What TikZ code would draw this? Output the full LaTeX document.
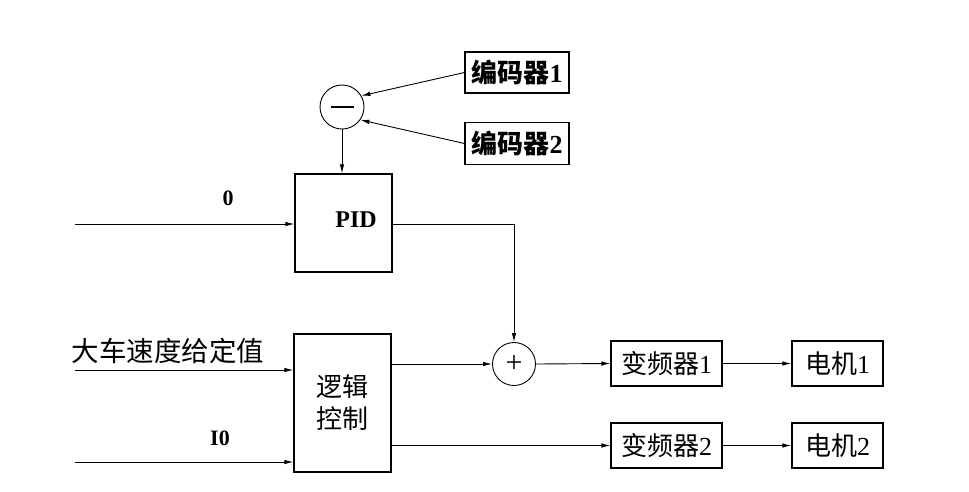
\documentclass[tikz,border=0pt]{standalone}
\usepackage{fontspec}
\setmainfont{Liberation Serif}
\newfontfamily\cjk{Noto Sans CJK SC}
\usetikzlibrary{arrows.meta}
\tikzset{
  blk/.style={draw, line width=1.2pt, inner sep=0pt, font=\fontsize{26}{28}\selectfont},
  bblk/.style={blk, font=\fontsize{26}{28}\selectfont\bfseries},
  sumc/.style={draw, circle, line width=0.9pt, inner sep=0pt, minimum size=44pt},
  arr/.style={line width=0.9pt, -{Latex[length=9pt,width=4.5pt]}},
  lbl/.style={inner sep=0pt, font=\fontsize{24}{26}\selectfont\bfseries}
}
\begin{document}
\begin{tikzpicture}[x=1pt,y=-1pt]
\useasboundingbox (0,0) rectangle (969,491);
% encoders
\node[bblk, minimum width=104pt, minimum height=41pt] (enc1) at (517,72.5) {{\cjk 编码器}1};
\node[bblk, minimum width=104pt, minimum height=42pt] (enc2) at (517,143.5) {{\cjk 编码器}2};
\node[sumc] (minus) at (342,107) {\rule{23pt}{2.8pt}};
% PID
\node[blk, minimum width=97pt, minimum height=98pt] (pid) at (343.5,223) {};
\node[lbl] (pidt) at (356,220) {PID};
% logic
\node[blk, minimum width=97pt, minimum height=138pt, align=center] (logic) at (342.5,403) {{\cjk 逻辑}\\[4pt]{\cjk 控制}};
\node[sumc, minimum size=43pt] (plus) at (514,364) {\fontsize{30}{30}\selectfont\raisebox{-1pt}{+}};
% outputs
\node[blk, minimum width=111pt, minimum height=45pt] (vf1) at (666.5,363.5) {{\cjk 变频器}1};
\node[blk, minimum width=91pt, minimum height=45pt] (m1) at (837.5,363.5) {{\cjk 电机}1};
\node[blk, minimum width=111pt, minimum height=45pt] (vf2) at (666.5,445.5) {{\cjk 变频器}2};
\node[blk, minimum width=91pt, minimum height=45pt] (m2) at (837.5,445.5) {{\cjk 电机}2};
% labels
\node[lbl, font=\fontsize{22}{24}\selectfont\bfseries] (l0) at (228,198) {0};
\node[lbl, font=\fontsize{27.5}{29}\selectfont\cjk] (lspd) at (168,351) {大车速度给定值};
\node[lbl, font=\fontsize{22}{24}\selectfont\bfseries] (lio) at (220,438) {I0};
% input coordinates
\coordinate (in0) at (75,224);
\coordinate (in1) at (75,370);
\coordinate (in2) at (75,462);
% connectors
\draw[arr] (enc1.west) -- (minus.30);
\draw[arr] (enc2.west) -- (minus.-35);
\draw[arr] (minus.south) -- (pid.north -| minus.south);
\draw[arr] (in0) -- (in0 -| pid.west);
\draw[arr] (pid.east |- in0) -| (plus.north);
\draw[arr] (in1) -- (in1 -| logic.west);
\draw[arr] (in2) -- (in2 -| logic.west);
\draw[arr] (logic.east |- plus.west) -- (plus.west);
\draw[arr] (plus.east) -- (vf1.west);
\draw[arr] (logic.east |- vf2.west) -- (vf2.west);
\draw[arr] (vf1.east) -- (m1.west);
\draw[arr] (vf2.east) -- (m2.west);
\end{tikzpicture}
\end{document}
